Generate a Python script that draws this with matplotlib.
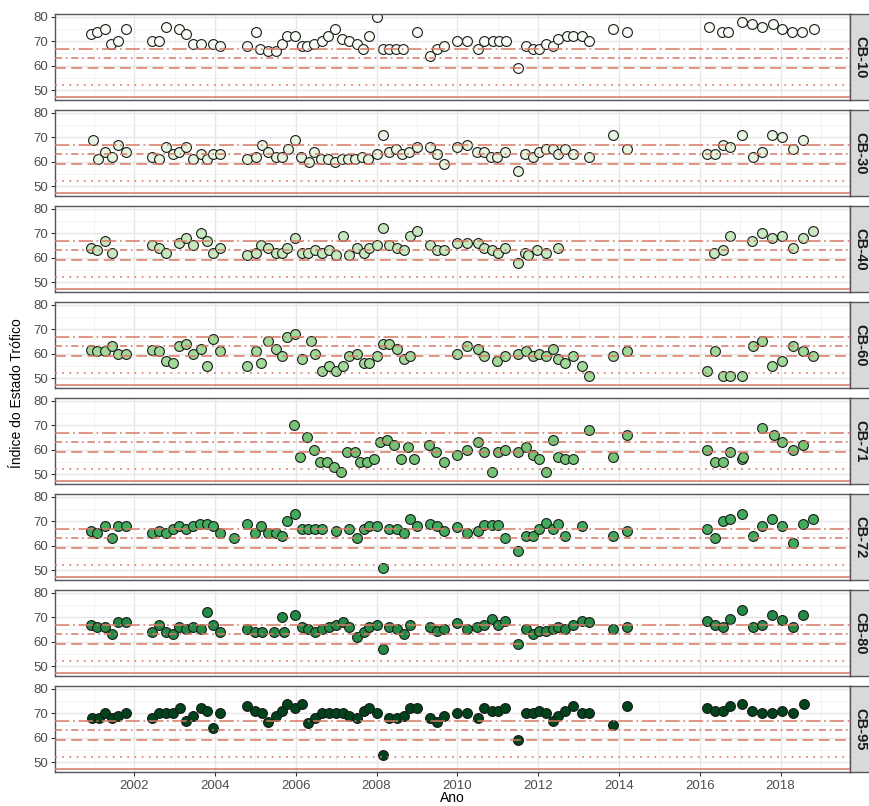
import matplotlib
matplotlib.use("Agg")
import matplotlib.pyplot as plt
from matplotlib.ticker import MultipleLocator

plt.rcParams["font.family"] = ["Liberation Sans", "DejaVu Sans"]

# IET por estação (ano decimal, valor)
cb10_ano = [2000.93, 2001.09, 2001.28, 2001.43, 2001.6, 2001.79,
            2002.44, 2002.62, 2002.79, 2003.11, 2003.29, 2003.45, 2003.66, 2003.95, 2004.13,
            2004.79, 2005.01, 2005.12, 2005.31, 2005.5, 2005.67, 2005.79, 2005.97,
            2006.15, 2006.27, 2006.46, 2006.65, 2006.81, 2006.98, 2007.14, 2007.33, 2007.51,
            2007.66, 2007.82, 2008.01, 2008.16, 2008.32, 2008.49, 2008.65,
            2009.0, 2009.33, 2009.49, 2009.67, 2009.99, 2010.24, 2010.5, 2010.67, 2010.88,
            2011.04, 2011.21, 2011.5, 2011.7, 2011.88, 2012.02, 2012.2, 2012.38, 2012.5,
            2012.71, 2012.87, 2013.08, 2013.25, 2013.86, 2014.19,
            2016.22, 2016.55, 2016.71, 2017.04, 2017.29, 2017.54, 2017.81, 2018.03, 2018.28,
            2018.53, 2018.82]
cb10_iet = [73, 74, 75, 69, 70, 75,
            70, 70, 76, 75, 73, 69, 69, 69, 68,
            68, 74, 67, 66, 66, 69, 72, 72,
            68, 68, 69, 70, 72, 75, 71, 70, 69,
            67, 72, 80, 67, 67, 67, 67,
            74, 64, 67, 68, 70, 70, 67, 70, 70,
            70, 70, 59, 68, 67, 67, 69, 68, 71,
            72, 72, 72, 70, 75, 74,
            76, 74, 74, 78, 77, 76, 77, 75, 74,
            74, 75]

cb30_ano = [2000.97, 2001.1, 2001.28, 2001.45, 2001.61, 2001.79,
            2002.44, 2002.62, 2002.79, 2002.96, 2003.11, 2003.29, 2003.45, 2003.66, 2003.8,
            2003.96, 2004.13,
            2004.79, 2005.01, 2005.16, 2005.31, 2005.5, 2005.67, 2005.8, 2005.97,
            2006.12, 2006.32, 2006.46, 2006.62, 2006.81, 2006.98, 2007.14, 2007.3, 2007.47,
            2007.64, 2007.8, 2008.01, 2008.16, 2008.3, 2008.49, 2008.64, 2008.81, 2009.0,
            2009.33, 2009.49, 2009.66, 2009.99, 2010.24, 2010.48, 2010.66, 2010.83, 2010.98,
            2011.18, 2011.49, 2011.68, 2011.88, 2012.03, 2012.2, 2012.38, 2012.5, 2012.67,
            2012.87, 2013.25, 2013.85, 2014.19,
            2016.19, 2016.38, 2016.57, 2016.75, 2017.04, 2017.31, 2017.54, 2017.78, 2018.03,
            2018.3, 2018.55]
cb30_iet = [69, 61, 64, 62, 67, 64,
            62, 61, 66, 63, 64, 66, 61, 63, 61,
            63, 63,
            61, 62, 67, 64, 62, 62, 65, 69,
            62, 60, 64, 61, 61, 60, 61, 61, 61,
            62, 61, 63, 71, 64, 65, 63, 64, 66,
            66, 63, 59, 66, 67, 64, 64, 62, 62,
            64, 56, 63, 62, 64, 65, 65, 63, 65,
            63, 62, 71, 65,
            63, 63, 67, 66, 71, 62, 64, 71, 70,
            65, 69]

cb40_ano = [2000.93, 2001.09, 2001.28, 2001.45,
            2002.44, 2002.62, 2002.79, 2003.11, 2003.29, 2003.45, 2003.66, 2003.8, 2003.95,
            2004.13,
            2004.79, 2005.01, 2005.14, 2005.31, 2005.5, 2005.67, 2005.79, 2005.97,
            2006.15, 2006.31, 2006.48, 2006.64, 2006.83, 2007.0, 2007.16, 2007.33, 2007.51,
            2007.68, 2007.82, 2008.01, 2008.17, 2008.32, 2008.51, 2008.67, 2008.84, 2009.0,
            2009.33, 2009.49, 2009.66, 2009.99, 2010.24, 2010.5, 2010.66, 2010.85, 2011.0,
            2011.18, 2011.49, 2011.68, 2011.74, 2011.97, 2012.2, 2012.5,
            2016.36, 2016.57, 2016.74, 2017.29, 2017.54, 2017.78, 2018.03, 2018.3, 2018.55,
            2018.81]
cb40_iet = [64, 63, 67, 62,
            65, 64, 62, 66, 68, 65, 70, 67, 62,
            64,
            61, 62, 65, 64, 62, 62, 64, 68,
            62, 62, 63, 62, 63, 61, 69, 61, 64,
            62, 64, 65, 72, 65, 64, 63, 69, 71,
            65, 63, 63, 66, 66, 66, 64, 63, 62,
            64, 58, 62, 61, 63, 62, 64,
            62, 63, 69, 67, 70, 68, 69, 64, 68,
            71]

cb60_ano = [2000.93, 2001.09, 2001.28, 2001.45, 2001.61, 2001.79,
            2002.44, 2002.62, 2002.79, 2002.96, 2003.11, 2003.29, 2003.45, 2003.66, 2003.8,
            2003.96, 2004.13,
            2004.79, 2005.01, 2005.14, 2005.31, 2005.5, 2005.67, 2005.79, 2005.97,
            2006.15, 2006.38, 2006.48, 2006.64, 2006.83, 2007.0, 2007.16, 2007.33, 2007.51,
            2007.68, 2007.82, 2008.01, 2008.17, 2008.32, 2008.51, 2008.67, 2008.84,
            2009.99, 2010.24, 2010.5, 2010.66, 2010.98, 2011.18, 2011.49, 2011.7, 2011.88,
            2012.03, 2012.2, 2012.38, 2012.5, 2012.67, 2012.87, 2013.08, 2013.25,
            2013.85, 2014.19,
            2016.19, 2016.38, 2016.57, 2016.75, 2017.04, 2017.31, 2017.54, 2017.78, 2018.03,
            2018.3, 2018.55, 2018.81]
cb60_iet = [61.5, 61, 61, 63, 60, 60,
            61.5, 61, 57, 56, 63, 64, 60, 62, 55,
            66, 61,
            55, 61, 56, 65, 62, 59, 67, 68,
            58, 65, 60, 53, 55, 53, 55, 59, 60,
            56, 56, 59, 64, 64, 62, 58, 59,
            60, 63, 62, 59, 57, 59, 60, 61, 59,
            60, 59, 62, 58, 56, 59, 55, 51,
            59, 61,
            53, 61, 51, 51, 51, 63, 65, 55, 57,
            63, 61, 59]

cb71_ano = [2005.96, 2006.11, 2006.27, 2006.44, 2006.6, 2006.77, 2006.94, 2007.12, 2007.27,
            2007.46, 2007.6, 2007.76, 2007.94, 2008.09, 2008.25, 2008.43, 2008.6, 2008.77,
            2008.93, 2009.3, 2009.47, 2009.66, 2009.99, 2010.24, 2010.5, 2010.66, 2010.85,
            2011.0, 2011.18, 2011.49, 2011.7, 2011.88, 2012.03, 2012.2, 2012.38, 2012.5,
            2012.67, 2012.87, 2013.25, 2013.85, 2014.19,
            2016.19, 2016.38, 2016.57, 2016.75, 2017.04, 2017.06, 2017.54, 2017.83, 2018.03,
            2018.3, 2018.55]
cb71_iet = [70, 57, 65, 60, 55, 55, 53, 51, 59,
            59, 55, 55, 56, 63, 64, 62, 56, 61,
            56, 62, 59, 55, 58, 60, 63, 59, 51,
            59, 60, 59, 61, 58, 56, 51, 64, 57,
            56, 56, 68, 57, 66,
            60, 55, 55, 59, 56, 57, 69, 66, 63,
            60, 62]

cb72_ano = [2000.93, 2001.09, 2001.28, 2001.45, 2001.61, 2001.79,
            2002.44, 2002.62, 2002.79, 2002.96, 2003.11, 2003.29, 2003.45, 2003.62, 2003.8,
            2003.96, 2004.13, 2004.46,
            2004.79, 2005.0, 2005.14, 2005.31, 2005.5, 2005.67, 2005.79, 2005.97,
            2006.15, 2006.31, 2006.48, 2006.64, 2007.0, 2007.33, 2007.51, 2007.68, 2007.82,
            2008.01, 2008.16, 2008.32, 2008.51, 2008.67, 2008.84, 2009.0,
            2009.33, 2009.49, 2009.66, 2009.99, 2010.24, 2010.5, 2010.66, 2010.85, 2011.0,
            2011.18, 2011.49, 2011.7, 2011.88, 2012.03, 2012.2, 2012.38, 2012.5, 2012.67,
            2013.08, 2013.85, 2014.19,
            2016.19, 2016.38, 2016.57, 2016.75, 2017.04, 2017.31, 2017.54, 2017.8, 2018.03,
            2018.31, 2018.55, 2018.81]
cb72_iet = [66, 65, 68, 63, 68, 68,
            65, 66, 65, 67, 68, 67, 68, 69, 69,
            68, 65, 63,
            69, 65, 68, 65, 65, 64, 70, 73,
            67, 67, 67, 67, 66, 67, 63, 67, 68,
            68, 51, 67, 67, 65, 71, 68,
            69, 68, 66, 67.5, 65, 66, 68.5, 68.5, 68.5,
            63, 58, 64, 64, 67, 69.5, 67, 69, 64,
            68, 64, 66,
            67, 63, 70, 71, 73, 64, 68, 71, 68,
            61, 69, 71]

cb80_ano = [2000.93, 2001.09, 2001.28, 2001.45, 2001.61, 2001.79,
            2002.44, 2002.62, 2002.79, 2002.96, 2003.11, 2003.29, 2003.45, 2003.66, 2003.8,
            2003.96, 2004.13,
            2004.79, 2005.0, 2005.16, 2005.46, 2005.65, 2005.7, 2005.97,
            2006.15, 2006.31, 2006.48, 2006.64, 2006.83, 2007.0, 2007.16, 2007.33, 2007.51,
            2007.68, 2007.82, 2008.01, 2008.16, 2008.32, 2008.51, 2008.67, 2008.84,
            2009.33, 2009.49, 2009.66, 2009.99, 2010.24, 2010.48, 2010.66, 2010.85, 2011.0,
            2011.18, 2011.49, 2011.7, 2011.88, 2012.03, 2012.2, 2012.38, 2012.5, 2012.67,
            2012.87, 2013.08, 2013.25, 2013.85, 2014.19,
            2016.19, 2016.38, 2016.57, 2016.75, 2017.04, 2017.31, 2017.54, 2017.8, 2018.03,
            2018.31, 2018.55]
cb80_iet = [67, 66, 66, 63, 68, 68,
            64, 67, 64, 63, 66, 65, 66, 65, 72,
            67, 64,
            65, 64, 64, 64, 70, 64, 71,
            66, 65, 64, 65, 66, 67, 68, 66, 62,
            64, 66, 67, 57, 66, 65, 63, 67,
            66, 64.5, 65, 67.5, 65, 66, 67, 69.5, 67,
            68.5, 59, 65, 63, 64.5, 64.5, 65, 66, 65,
            67, 68.5, 68, 65, 66,
            68.5, 67, 66, 69.5, 73, 66, 67, 71, 69,
            66, 71]

cb95_ano = [2000.95, 2001.12, 2001.28, 2001.45, 2001.61, 2001.79,
            2002.44, 2002.62, 2002.79, 2002.96, 2003.14, 2003.29, 2003.45, 2003.66, 2003.8,
            2003.96, 2004.13,
            2004.79, 2005.0, 2005.16, 2005.31, 2005.5, 2005.67, 2005.79, 2005.97,
            2006.15, 2006.31, 2006.48, 2006.64, 2006.83, 2007.0, 2007.16, 2007.33, 2007.51,
            2007.68, 2007.82, 2008.01, 2008.16, 2008.32, 2008.51, 2008.67, 2008.84, 2009.0,
            2009.33, 2009.49, 2009.66, 2009.99, 2010.24, 2010.5, 2010.66, 2010.85, 2011.0,
            2011.18, 2011.49, 2011.7, 2011.88, 2012.03, 2012.2, 2012.38, 2012.5, 2012.67,
            2012.87, 2013.08, 2013.25, 2013.85, 2014.19,
            2016.19, 2016.38, 2016.57, 2016.75, 2017.04, 2017.29, 2017.54, 2017.78, 2018.03,
            2018.31, 2018.57]
cb95_iet = [68, 68, 70, 68, 69, 70,
            68, 70, 70, 70, 72, 67, 69, 72, 71,
            64, 70,
            73, 71, 70, 66.5, 69, 71, 74, 72,
            74, 66, 68, 70, 70, 70, 70, 69, 68,
            71, 72, 70, 53, 68, 68, 69, 72, 72,
            68, 66.5, 69, 70, 70, 68, 72, 71, 71,
            72, 59, 70, 70, 71, 70, 67, 69, 71,
            73, 70, 70, 65, 73,
            72, 71, 71, 73, 74, 71, 70, 70, 71,
            70, 74]

estacoes = ["CB-10", "CB-30", "CB-40", "CB-60", "CB-71", "CB-72", "CB-80", "CB-95"]
anos = [cb10_ano, cb30_ano, cb40_ano, cb60_ano, cb71_ano, cb72_ano, cb80_ano, cb95_ano]
iets = [cb10_iet, cb30_iet, cb40_iet, cb60_iet, cb71_iet, cb72_iet, cb80_iet, cb95_iet]
cores = ["#f7fcf5", "#e5f5e0", "#c7e9c0", "#a1d99b", "#74c476", "#41ab5d", "#238b45", "#00441b"]

# limites das classes de estado trófico
limites = [47, 52, 59, 63, 67]
estilos = ["-", (0, (1, 3)), (0, (6, 3)), (0, (4, 2, 1, 2)), (0, (8, 2, 1, 2))]
anos_ticks = [2002, 2004, 2006, 2008, 2010, 2012, 2014, 2016, 2018]

W, H = 870, 806
fig = plt.figure(figsize=(W / 100, H / 100), dpi=100)


def box(x0, y0, w, h):
    return [x0 / W, 1 - (y0 + h) / H, w / W, h / H]


for i, (nome, x, y, cor) in enumerate(zip(estacoes, anos, iets, cores)):
    top = 14 + 96 * i
    ax = fig.add_axes(box(55, top, 795, 86))
    ax.set_xlim(2000.04, 2019.72)
    ax.set_ylim(45.9, 81.2)
    ax.xaxis.set_major_locator(MultipleLocator(2))
    ax.xaxis.set_minor_locator(MultipleLocator(1))
    ax.set_yticks([50, 60, 70, 80])
    ax.yaxis.set_minor_locator(MultipleLocator(5))
    ax.grid(which="major", color="#e6e6e6", lw=1.0, zorder=0)
    ax.grid(which="minor", color="#f1f1f1", lw=0.6, zorder=0)
    ax.set_axisbelow(True)

    ax.scatter(x, y, s=50, c=cor, edgecolors="#1a1a1a", linewidths=0.8, zorder=2)
    for lim, ls in zip(limites, estilos):
        ax.axhline(lim, color="#d67a62", lw=1.3, ls=ls, alpha=0.85, zorder=3)

    for sp in ax.spines.values():
        sp.set_color("#555555")
        sp.set_linewidth(1.0)
    ax.tick_params(axis="y", which="major", length=3, color="#333333",
                   labelsize=9.5, labelcolor="#4d4d4d", pad=2)
    ax.tick_params(which="minor", length=0)
    if i < len(estacoes) - 1:
        ax.tick_params(axis="x", which="major", length=0, labelbottom=False)
    else:
        ax.set_xticks(anos_ticks)
        ax.tick_params(axis="x", which="major", length=3, color="#333333",
                       labelsize=9.5, labelcolor="#4d4d4d", pad=3)
        for lab in ax.get_xticklabels():
            lab.set_family(["Liberation Sans Narrow", "Liberation Sans"])

    st = fig.add_axes(box(850, top, 20, 86))
    st.set_facecolor("#d9d9d9")
    st.set_xticks([])
    st.set_yticks([])
    for sp in st.spines.values():
        sp.set_color("#555555")
        sp.set_linewidth(1.0)
    st.text(0.5, 0.5, nome, rotation=-90, ha="center", va="center",
            fontsize=10.5, fontweight="bold", color="#1a1a1a", transform=st.transAxes)

fig.text(17 / W, 1 - 393 / H, "Índice do Estado Trófico", rotation=90,
         ha="center", va="center", fontsize=10)
fig.text(452 / W, 1 / H, "Ano", ha="center", va="bottom", fontsize=10)

fig.savefig("out.png", dpi=100)
